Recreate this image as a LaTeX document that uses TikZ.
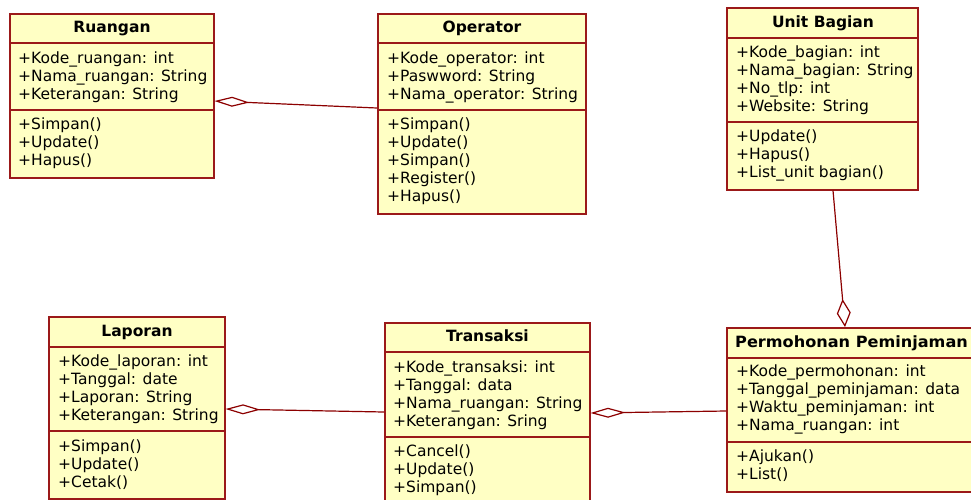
\documentclass[tikz,border=0pt]{standalone}
\usepackage{fontspec}
\usepackage{graphicx}
\setmainfont{DejaVu Sans}
\usetikzlibrary{arrows.meta,calc}
\definecolor{boxfill}{RGB}{255,255,196}
\definecolor{boxline}{RGB}{155,25,25}
\definecolor{conn}{RGB}{140,0,0}
\tikzset{
  classbox/.style={draw=boxline, fill=boxfill, line width=1.5pt, anchor=north west, inner sep=0pt},
  sepline/.style={draw=boxline, line width=1.3pt},
  title/.style={font=\fontsize{15.5}{18}\selectfont\bfseries, inner sep=0pt, text height=11.5pt, text depth=3.5pt},
  member/.style={font=\fontsize{15.5}{18}\selectfont, anchor=west, inner sep=0pt, text height=11.5pt, text depth=3.5pt},
  aggr/.style={draw=conn, line width=1.2pt, -{Diamond[open, length=35pt, width=10pt]}},
  aggrv/.style={draw=conn, line width=1.2pt, -{Diamond[open, length=28pt, width=14pt]}},
}
\begin{document}
\begin{tikzpicture}[x=1pt, y=-1pt]
\useasboundingbox (0,0) rectangle (971,499);
\clip (0,0) rectangle (971,499);

% ---------- Ruangan ----------
\node[classbox, minimum width=204pt, minimum height=164pt] (ruangan) at (9,13) {};
\draw[sepline] (ruangan.west |- 0,43) -- (ruangan.east |- 0,43);
\draw[sepline] (ruangan.west |- 0,110) -- (ruangan.east |- 0,110);
\node[title] (ruangan-t) at (112,28) {Ruangan};
\foreach \s [count=\i] in {{+Kode\_ruangan: int},{+Nama\_ruangan: String},{+Keterangan: String}}
  \node[member] (ruangan-a\i) at (18,{59+18*(\i-1)}) {\s};
\foreach \s [count=\i] in {{+Simpan()},{+Update()},{+Hapus()}}
  \node[member] (ruangan-m\i) at (18,{125+18*(\i-1)}) {\s};

% ---------- Operator ----------
\node[classbox, minimum width=208pt, minimum height=200pt] (operator) at (377,13) {};
\draw[sepline] (operator.west |- 0,43) -- (operator.east |- 0,43);
\draw[sepline] (operator.west |- 0,110) -- (operator.east |- 0,110);
\node[title] (operator-t) at (482,28) {Operator};
\foreach \s [count=\i] in {{+Kode\_operator: int},{+Paswword: String},{+Nama\_operator: String}}
  \node[member] (operator-a\i) at (387,{59+18*(\i-1)}) {\s};
\foreach \s [count=\i] in {{+Simpan()},{+Update()},{+Simpan()},{+Register()},{+Hapus()}}
  \node[member] (operator-m\i) at (387,{125+18*(\i-1)}) {\s};

% ---------- Unit Bagian ----------
\node[classbox, minimum width=191pt, minimum height=182pt] (unit) at (726,7) {};
\draw[sepline] (unit.west |- 0,38) -- (unit.east |- 0,38);
\draw[sepline] (unit.west |- 0,122) -- (unit.east |- 0,122);
\node[title] (unit-t) at (823,23) {Unit Bagian};
\foreach \s [count=\i] in {{+Kode\_bagian: int},{+Nama\_bagian: String},{+No\_tlp: int},{+Website: String}}
  \node[member] (unit-a\i) at (736,{53+18*(\i-1)}) {\s};
\foreach \s [count=\i] in {{+Update()},{+Hapus()},{+List\_unit bagian()}}
  \node[member] (unit-m\i) at (736,{137+18*(\i-1)}) {\s};

% ---------- Laporan ----------
\node[classbox, minimum width=176pt, minimum height=182pt] (laporan) at (48,316) {};
\draw[sepline] (laporan.west |- 0,347) -- (laporan.east |- 0,347);
\draw[sepline] (laporan.west |- 0,431) -- (laporan.east |- 0,431);
\node[title] (laporan-t) at (137,332) {Laporan};
\foreach \s [count=\i] in {{+Kode\_laporan: int},{+Tanggal: date},{+Laporan: String},{+Keterangan: String}}
  \node[member] (laporan-a\i) at (58,{362+18*(\i-1)}) {\s};
\foreach \s [count=\i] in {{+Simpan()},{+Update()},{+Cetak()}}
  \node[member] (laporan-m\i) at (58,{447+18*(\i-1)}) {\s};

% ---------- Transaksi ----------
\node[classbox, minimum width=205pt, minimum height=200pt] (transaksi) at (384,322) {};
\draw[sepline] (transaksi.west |- 0,352) -- (transaksi.east |- 0,352);
\draw[sepline] (transaksi.west |- 0,437) -- (transaksi.east |- 0,437);
\node[title] (transaksi-t) at (487.5,337) {Transaksi};
\foreach \s [count=\i] in {{+Kode\_transaksi: int},{+Tanggal: data},{+Nama\_ruangan: String},{+Keterangan: Sring}}
  \node[member] (transaksi-a\i) at (393,{368+18*(\i-1)}) {\s};
\foreach \s [count=\i] in {{+Cancel()},{+Update()},{+Simpan()}}
  \node[member] (transaksi-m\i) at (393,{452+18*(\i-1)}) {\s};

% ---------- Permohonan Peminjaman ----------
\node[classbox, minimum width=264pt, minimum height=164pt] (permohonan) at (726,327) {};
\draw[sepline] (permohonan.west |- 0,358) -- (permohonan.east |- 0,358);
\draw[sepline] (permohonan.west |- 0,442) -- (permohonan.east |- 0,442);
\node[title, anchor=west] (permohonan-t) at (735,343) {\scalebox{1.04}[1]{Permohonan Peminjaman}};
\foreach \s [count=\i] in {{+Kode\_permohonan: int},{+Tanggal\_peminjaman: data},{+Waktu\_peminjaman: int},{+Nama\_ruangan: int}}
  \node[member] (permohonan-a\i) at (736,{372+18*(\i-1)}) {\s};
\foreach \s [count=\i] in {{+Ajukan()},{+List()}}
  \node[member] (permohonan-m\i) at (736,{457+18*(\i-1)}) {\s};

% ---------- Connectors ----------
\draw[aggr] (operator.west |- 0,108) -- (ruangan.east |- 0,101);
\draw[aggr] (transaksi.west |- 0,412) -- (laporan.east |- 0,409);
\draw[aggr] (permohonan.west |- 0,411) -- (transaksi.east |- 0,413);
\draw[aggrv] (unit.south -| 833,0) -- (permohonan.north -| 845,0);
\end{tikzpicture}
\end{document}
